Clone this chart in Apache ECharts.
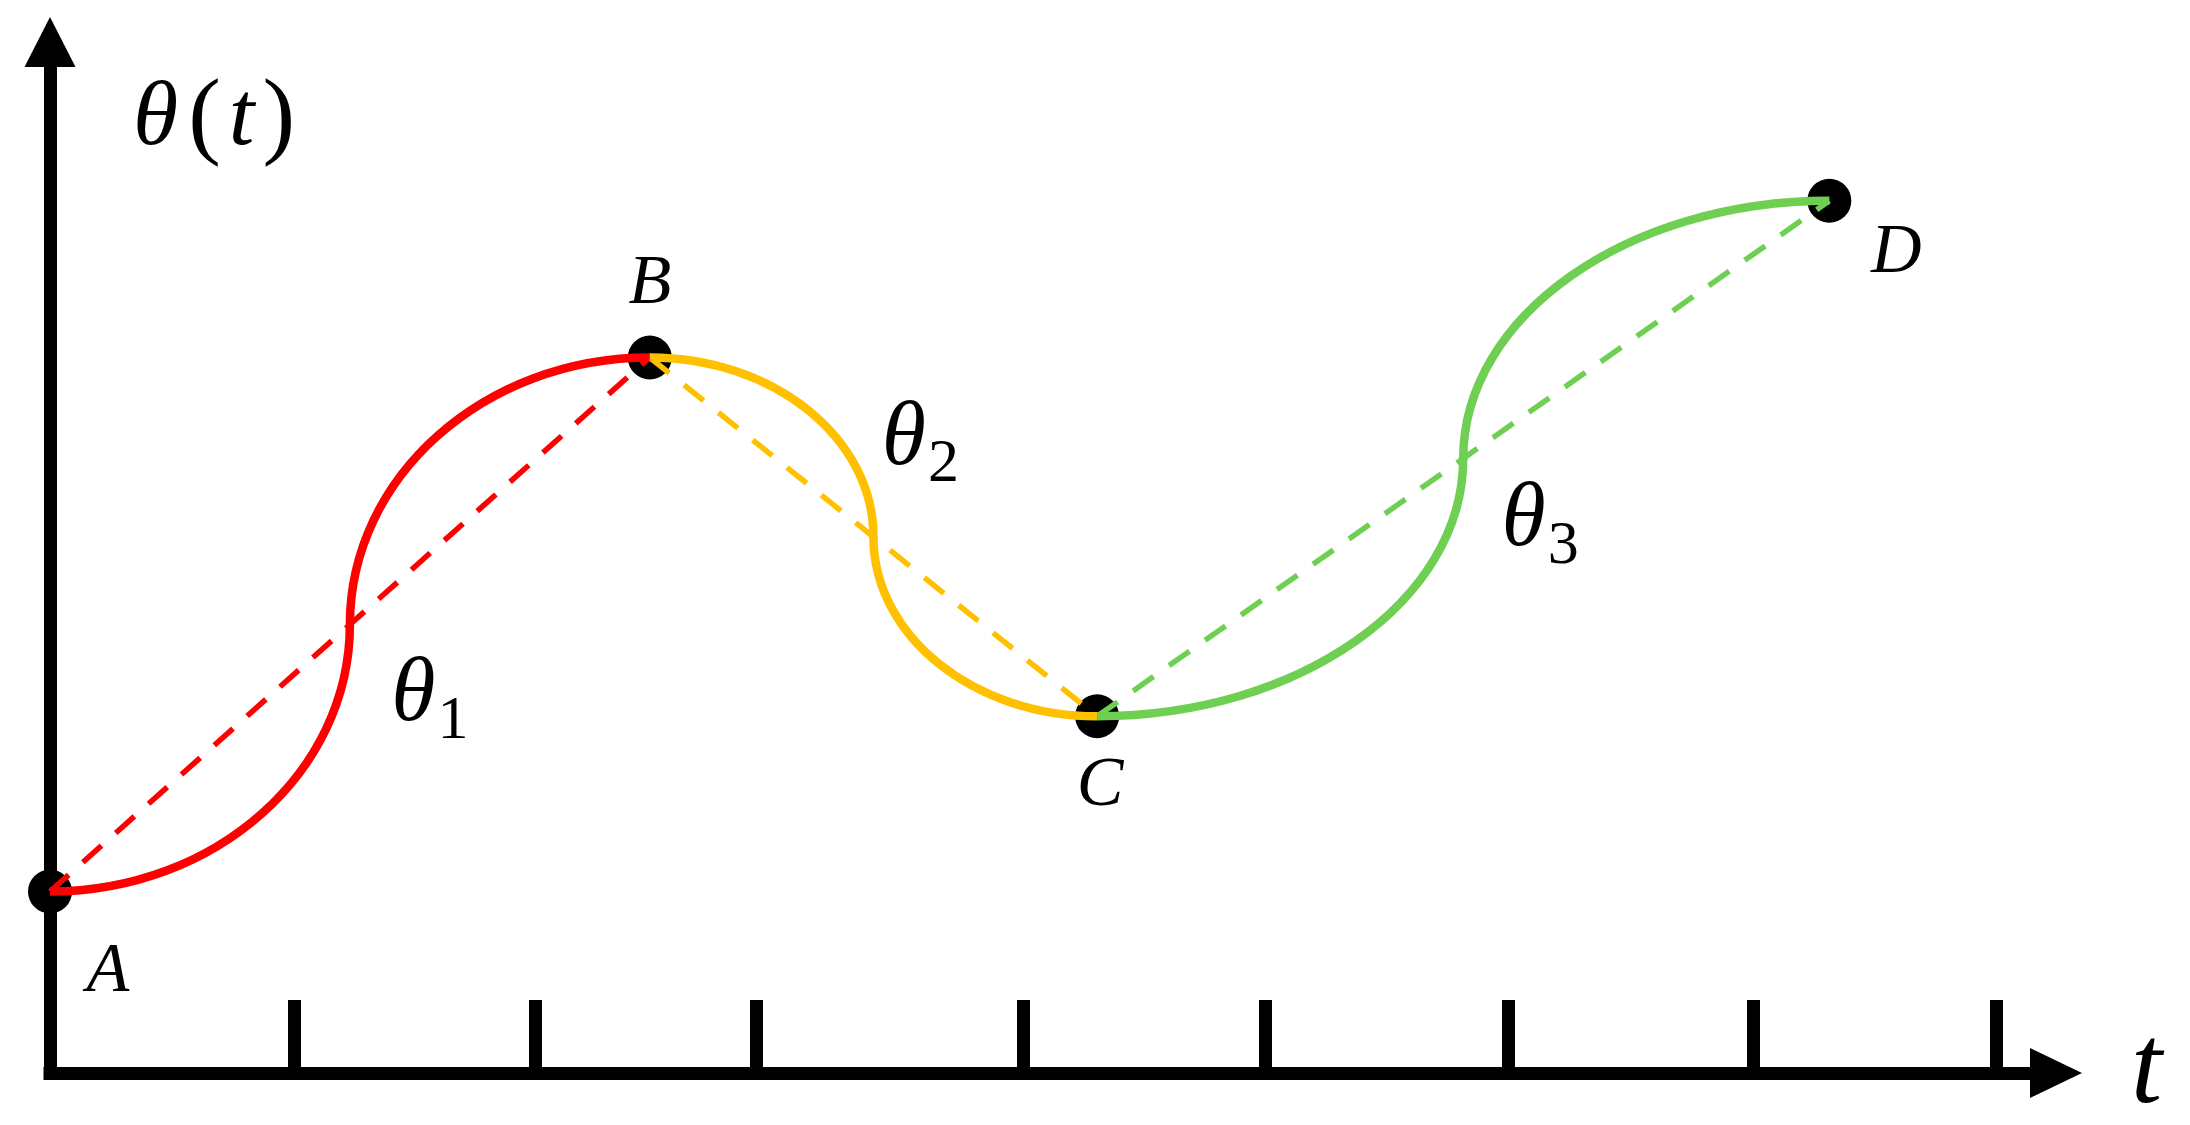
<!DOCTYPE html>
<html>
<head>
<meta charset="utf-8">
<title>θ(t)</title>
<script src="https://cdn.jsdelivr.net/npm/echarts@6.0.0/dist/echarts.min.js"></script>
<style>
    html, body { margin: 0; padding: 0; background: #fff; }
    #main { width: 2190px; height: 1125px; }
</style>
</head>
<body>
<div id="main"></div>
<script>
// key points of the path
const pointNames = ["A", "B", "C", "D"];
const pointT = [0, 2.99, 5.22, 8.87];
const pointTheta = [0.88, 3.47, 1.73, 4.23];
// tick marks along the t axis
const tickT = [1.22, 2.42, 3.52, 4.85, 6.06, 7.27, 8.49, 9.70];
// subscripts of the segments A-B, B-C, C-D
const segmentNames = ["1", "2", "3"];

const segColors = ["#FF0000", "#FFC000", "#6FCF52"];
const mathFont = "Liberation Serif";
// label offsets in px (style only)
const pointLabelOffset = [[58, 81], [0, -73], [3, 70], [67, 53]];
const segLabelOffset = [[80, 72], [47, -97], [77, 63]];

let myChart = echarts.init(document.getElementById("main"));

let points = pointT.map((t, i) => [t, pointTheta[i]]);
let segments = [];
let mids = [];
for (let i = 0; i < points.length - 1; i++) {
    segments.push([pointT[i], pointTheta[i], pointT[i + 1], pointTheta[i + 1]]);
    mids.push([(pointT[i] + pointT[i + 1]) / 2, (pointTheta[i] + pointTheta[i + 1]) / 2]);
}

// S-shaped curve: two quarter ellipses meeting at the midpoint
function renderCurve(params, api) {
    let p = api.coord([api.value(0), api.value(1)]);
    let q = api.coord([api.value(2), api.value(3)]);
    let m = [(p[0] + q[0]) / 2, (p[1] + q[1]) / 2];
    const k = 0.5523;
    let style = { fill: "none", stroke: segColors[params.dataIndex], lineWidth: 8.5 };
    return {
        type: "group",
        children: [{
            type: "bezierCurve",
            shape: {
                x1: p[0], y1: p[1], x2: m[0], y2: m[1],
                cpx1: p[0] + k * (m[0] - p[0]), cpy1: p[1],
                cpx2: m[0], cpy2: m[1] - k * (m[1] - p[1])
            },
            style: style
        }, {
            type: "bezierCurve",
            shape: {
                x1: m[0], y1: m[1], x2: q[0], y2: q[1],
                cpx1: m[0], cpy1: m[1] + k * (q[1] - m[1]),
                cpx2: q[0] - k * (q[0] - m[0]), cpy2: q[1]
            },
            style: style
        }]
    };
}

let dashSeries = segments.map((s, i) => ({
    type: "line",
    data: [points[i], points[i + 1]],
    symbol: "none",
    z: 3,
    silent: true,
    lineStyle: { color: segColors[i], width: 5.5, type: [25, 19] }
}));

const axisLineStyle = { color: "#000", width: 13, cap: "square" };

const option = {
    animation: false,
    backgroundColor: "#fff",
    grid: { left: 50, right: 134, top: 42, bottom: 52, containLabel: false, outerBoundsMode: "none" },
    xAxis: {
        type: "value",
        min: 0,
        max: 10,
        name: "t",
        nameLocation: "end",
        nameGap: 75,
        nameTextStyle: {
            fontFamily: mathFont, fontStyle: "italic", fontSize: 112, color: "#000",
            align: "left", verticalAlign: "middle"
        },
        axisLine: { show: true, onZero: false, symbol: ["none", "triangle"], symbolSize: [50, 52], lineStyle: axisLineStyle },
        axisTick: { show: true, inside: true, length: 73, customValues: tickT, lineStyle: { color: "#000", width: 13 } },
        axisLabel: { show: false },
        splitLine: { show: false }
    },
    yAxis: {
        type: "value",
        min: 0,
        max: 5,
        name: "{i|θ}{u|(}{t|t}{u|)}",
        nameLocation: "end",
        nameGap: -78,
        nameTextStyle: {
            align: "left", verticalAlign: "middle", padding: [0, 0, 0, 83],
            rich: {
                i: { fontFamily: mathFont, fontStyle: "italic", fontSize: 92, color: "#000", padding: [0, 8, 0, 0] },
                t: { fontFamily: mathFont, fontStyle: "italic", fontSize: 92, color: "#000", padding: [0, 6, 0, 6] },
                u: { fontFamily: mathFont, fontSize: 98, color: "#000", padding: [0, 2, 0, 2] }
            }
        },
        axisLine: { show: true, onZero: false, symbol: ["none", "triangle"], symbolSize: [51, 50], lineStyle: axisLineStyle },
        axisTick: { show: false },
        axisLabel: { show: false },
        splitLine: { show: false }
    },
    series: [
        {
            type: "scatter",
            data: points.map((p, i) => ({ value: p, label: { offset: pointLabelOffset[i] } })),
            symbol: "circle",
            symbolSize: 44,
            clip: false,
            z: 2,
            itemStyle: { color: "#000", opacity: 1 },
            label: {
                show: true,
                position: "inside",
                formatter: (p) => pointNames[p.dataIndex],
                fontFamily: mathFont,
                fontStyle: "italic",
                fontSize: 70,
                color: "#000"
            }
        },
        ...dashSeries,
        {
            type: "custom",
            data: segments,
            renderItem: renderCurve,
            clip: false,
            silent: true,
            z: 4
        },
        {
            type: "scatter",
            data: mids.map((p, i) => ({ value: p, label: { offset: segLabelOffset[i] } })),
            symbolSize: 0,
            clip: false,
            silent: true,
            z: 5,
            itemStyle: { opacity: 1 },
            label: {
                show: true,
                position: "inside",
                formatter: (p) => "{th|θ}{sub|" + segmentNames[p.dataIndex] + "}",
                rich: {
                    th: { fontFamily: mathFont, fontStyle: "italic", fontSize: 90, color: "#000" },
                    sub: { fontFamily: mathFont, fontSize: 62, color: "#000", padding: [50, 0, 0, 2] }
                }
            }
        }
    ]
};
myChart.setOption(option, true);

window.addEventListener("resize", function () {
    myChart.resize();
});
</script>
</body>
</html>
